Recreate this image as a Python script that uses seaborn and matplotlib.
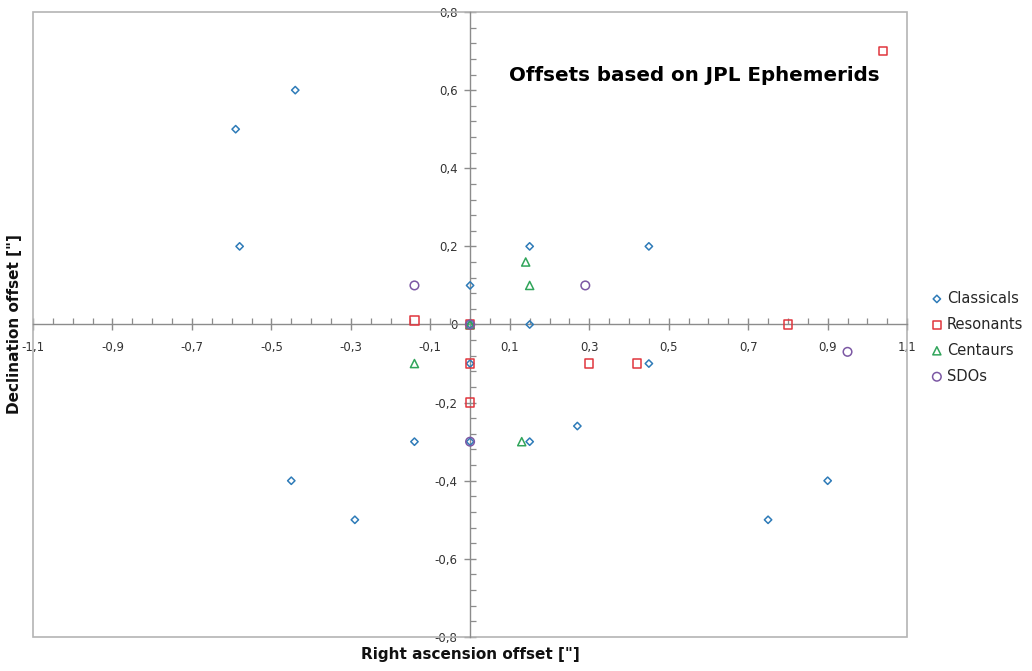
import matplotlib.pyplot as plt
import matplotlib.ticker as mticker
from matplotlib.patches import Rectangle
import numpy as np
import pandas as pd
import seaborn as sns

# offsets in arcsec
classicals_ra = [-0.59, -0.44, -0.58, 0.0, 0.15, 0.45, 0.15, 0.0, 0.0, 0.45, -0.14, 0.0, 0.15, 0.27, -0.45, -0.29, 0.75, 0.90]
classicals_dec = [0.50, 0.60, 0.20, 0.10, 0.20, 0.20, 0.0, 0.0, -0.10, -0.10, -0.30, -0.30, -0.30, -0.26, -0.40, -0.50, -0.50, -0.40]
resonants_ra = [1.04, -0.14, 0.0, 0.80, 0.0, 0.0, 0.30, 0.42]
resonants_dec = [0.70, 0.01, 0.0, 0.0, -0.10, -0.20, -0.10, -0.10]
centaurs_ra = [0.14, 0.15, -0.14, 0.13, 0.0]
centaurs_dec = [0.16, 0.10, -0.10, -0.30, 0.0]
sdos_ra = [-0.14, 0.29, 0.0, 0.0, 0.95]
sdos_dec = [0.10, 0.10, 0.0, -0.30, -0.07]

groups = ["Classicals", "Resonants", "Centaurs", "SDOs"]
colors = {"Classicals": "#2e7bb8", "Resonants": "#e0353d", "Centaurs": "#31a55b", "SDOs": "#7c58a4"}
markers = {"Classicals": "D", "Resonants": "s", "Centaurs": "^", "SDOs": "o"}
sizes = {"Classicals": 14, "Resonants": 36, "Centaurs": 34, "SDOs": 38}

df = pd.concat([
    pd.DataFrame({"ra": classicals_ra, "dec": classicals_dec, "group": "Classicals"}),
    pd.DataFrame({"ra": resonants_ra, "dec": resonants_dec, "group": "Resonants"}),
    pd.DataFrame({"ra": centaurs_ra, "dec": centaurs_dec, "group": "Centaurs"}),
    pd.DataFrame({"ra": sdos_ra, "dec": sdos_dec, "group": "SDOs"}),
])

sns.set_style("white")
plt.rcParams["font.family"] = ["DejaVu Sans"]

fig = plt.figure(figsize=(10.32, 6.71), dpi=100)
ax = fig.add_axes([0.032, 0.0507, 0.847, 0.9314])

for g in groups:
    sub = df[df["group"] == g]
    sns.scatterplot(data=sub, x="ra", y="dec", ax=ax, marker=markers[g], color=colors[g],
                    facecolor="none", edgecolor=colors[g], linewidth=1.1, s=sizes[g], label=g, zorder=3)

ax.set_xlim(-1.1, 1.1)
ax.set_ylim(-0.8, 0.8)

# axes through the origin
ax.spines["left"].set_position(("data", 0))
ax.spines["bottom"].set_position(("data", 0))
ax.spines["top"].set_visible(False)
ax.spines["right"].set_visible(False)
for s in ["left", "bottom"]:
    ax.spines[s].set_color("#8c8c8c")
    ax.spines[s].set_linewidth(1.0)
    ax.spines[s].set_zorder(2)
ax.add_patch(Rectangle((0, 0), 1, 1, transform=ax.transAxes, fill=False,
                       ec="#b4b4b4", lw=1.2, clip_on=False, zorder=1))

comma = mticker.FuncFormatter(lambda v, p: "0" if abs(v) < 1e-9 else f"{v:.1f}".replace(".", ","))
ax.set_xticks(np.arange(-1.1, 1.11, 0.2))
ax.set_yticks(np.arange(-0.8, 0.81, 0.2))
ax.xaxis.set_major_formatter(comma)
ax.yaxis.set_major_formatter(comma)
ax.xaxis.set_minor_locator(mticker.MultipleLocator(0.05))
ax.yaxis.set_minor_locator(mticker.MultipleLocator(0.04))
ax.tick_params(which="both", bottom=True, left=True, top=False, right=False)
ax.tick_params(which="major", direction="inout", length=8, width=1, color="#8c8c8c",
               labelsize=8.5, labelcolor="#333333")
ax.tick_params(which="minor", direction="in", length=4, width=0.9, color="#8c8c8c")
ax.tick_params(axis="x", which="major", pad=8)
ax.tick_params(axis="y", which="major", pad=5)

ax.set_xlabel('Right ascension offset ["]', fontsize=11, fontweight="bold", color="#111111")
ax.set_ylabel('Declination offset ["]', fontsize=11, fontweight="bold", color="#111111")
ax.xaxis.set_label_coords(0.5, -0.016)
ax.yaxis.set_label_coords(-0.013, 0.5)

ax.text(0.969, 0.899, "Offsets based on JPL Ephemerids", transform=ax.transAxes,
        ha="right", va="center", fontsize=14.3, fontweight="bold", color="black")

ax.legend(loc="upper left", bbox_to_anchor=(1.029, 0.554), frameon=False, fontsize=10.5,
          handlelength=0.6, handletextpad=0.4, labelspacing=0.75, borderaxespad=0, borderpad=0)

fig.savefig("out.png", dpi=100)
